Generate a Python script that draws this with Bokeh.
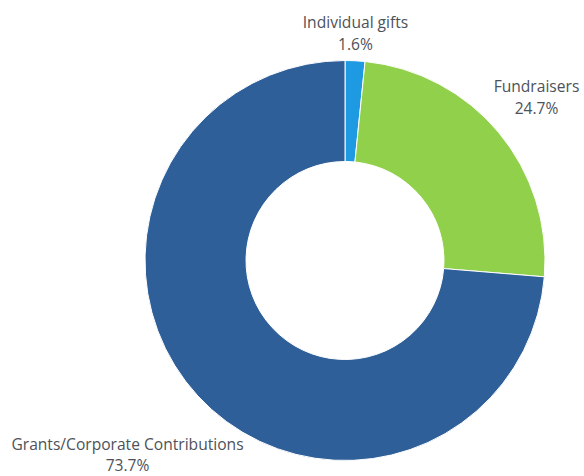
import numpy as np
from bokeh.plotting import figure
from bokeh.models import ColumnDataSource, Range1d
from bokeh.core.properties import value
from bokeh.embed import file_html
from bokeh.resources import INLINE

categories = ["Individual gifts", "Fundraisers", "Grants/Corporate Contributions"]
shares = [1.6, 24.7, 73.7]
pct_labels = ["1.6%", "24.7%", "73.7%"]
colors = ["#1e9ae2", "#91d04b", "#2e5f99"]

W, H = 584, 476
cx, cy = 344.5, H - 260
r_out, r_in = 200, 99

vals = np.array(shares, dtype=float)
frac = vals / vals.sum()
cum = np.concatenate([[0], np.cumsum(frac)])
start = np.pi / 2 - cum[:-1] * 2 * np.pi
end = np.pi / 2 - cum[1:] * 2 * np.pi

src = ColumnDataSource(dict(start=start, end=end, color=colors, cat=categories))

p = figure(width=W, height=H, output_backend="svg", toolbar_location=None,
           x_range=Range1d(0, W), y_range=Range1d(0, H), min_border=0)
p.axis.visible = False
p.grid.visible = False
p.outline_line_color = None
p.background_fill_color = "white"

p.annular_wedge(x=cx, y=cy, inner_radius=r_in, outer_radius=r_out,
                start_angle="start", end_angle="end", direction="clock",
                fill_color="color", line_color="white", line_width=1, source=src)

# label anchor positions (layout, offsets from top)
lab_x = [355, 536, 127]
lab_top = [21, 85, 443]
line_gap = [22, 22, 21]
tsrc = ColumnDataSource(dict(x=lab_x, y1=[H - t for t in lab_top],
                             y2=[H - t - g for t, g in zip(lab_top, line_gap)],
                             name=categories, pct=pct_labels))
for col, ycol in (("name", "y1"), ("pct", "y2")):
    p.text(x="x", y=ycol, text=col, source=tsrc, text_align="center",
           text_baseline="alphabetic", text_font=value("Open Sans"),
           text_font_size="15.6px", text_color="#4d5259")

open("out.html", "w").write(file_html(p, INLINE))
